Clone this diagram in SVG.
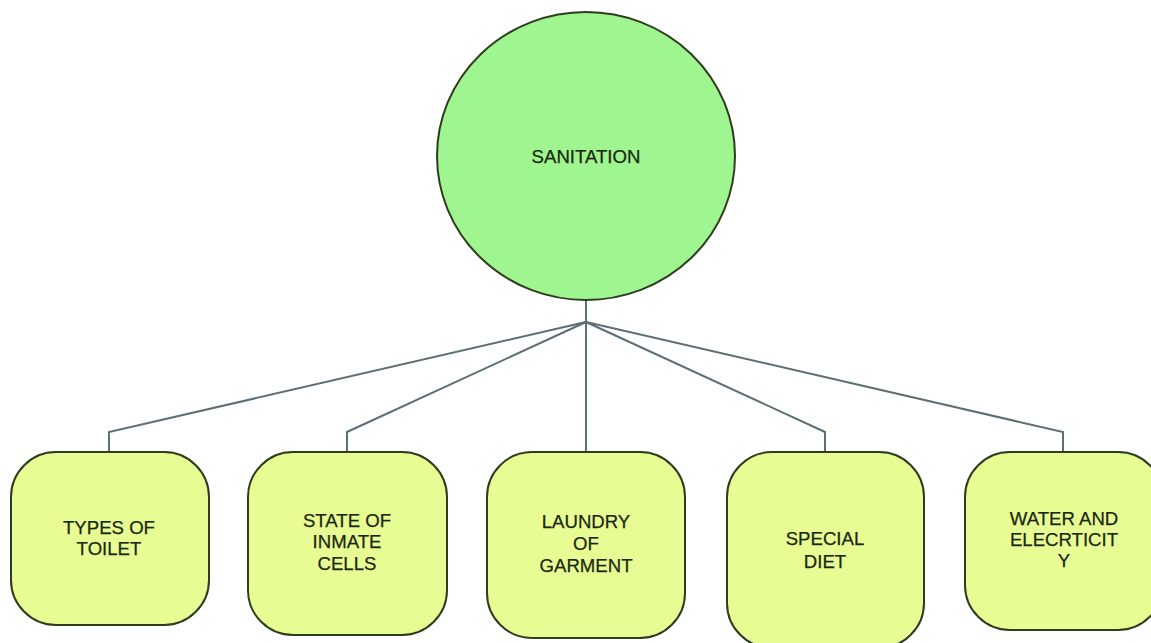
<svg xmlns="http://www.w3.org/2000/svg" width="1151" height="643" viewBox="0 0 1151 643">
<style>
.box{fill:#e8fc94;stroke:#2e3d1e;stroke-width:2}
.hub{fill:#9ff58f;stroke:#2e3d1e;stroke-width:2}
.lbl{font-family:"Liberation Sans",Arial,sans-serif;font-size:18.6px;fill:#1a2810;text-anchor:middle;stroke:#1a2810;stroke-width:0.25}
.con{fill:none;stroke:#5d6e76;stroke-width:2}
</style>
<rect width="1151" height="643" fill="#ffffff"/>
<g id="connectors">
<path class="con" d="M586,300 V322"/>
<path class="con" d="M586,322 L109,432 V452"/>
<path class="con" d="M586,322 L347,432 V452"/>
<path class="con" d="M586,322 V452"/>
<path class="con" d="M586,322 L825,432 V452"/>
<path class="con" d="M586,322 L1063,432 V452"/>
</g>
<g id="sanitation">
<ellipse class="hub" cx="586" cy="156" rx="149" ry="144"/>
<text class="lbl" x="586" y="163">SANITATION</text>
</g>
<g id="types-of-toilet">
<rect class="box" x="11" y="452" width="198" height="173" rx="45"/>
<text class="lbl" x="109" y="534">TYPES OF</text>
<text class="lbl" x="109" y="555">TOILET</text>
</g>
<g id="state-of-inmate-cells">
<rect class="box" x="248" y="452" width="199" height="183" rx="45"/>
<text class="lbl" x="347" y="527">STATE OF</text>
<text class="lbl" x="347" y="548">INMATE</text>
<text class="lbl" x="347" y="570">CELLS</text>
</g>
<g id="laundry-of-garment">
<rect class="box" x="487" y="452" width="198" height="186" rx="45"/>
<text class="lbl" x="586" y="528">LAUNDRY</text>
<text class="lbl" x="586" y="550">OF</text>
<text class="lbl" x="586" y="572">GARMENT</text>
</g>
<g id="special-diet">
<rect class="box" x="727" y="452" width="197" height="196" rx="45"/>
<text class="lbl" x="825" y="545">SPECIAL</text>
<text class="lbl" x="825" y="568">DIET</text>
</g>
<g id="water-and-electricity">
<rect class="box" x="965" y="452" width="198" height="178" rx="45"/>
<text class="lbl" x="1064" y="525">WATER AND</text>
<text class="lbl" x="1064" y="546">ELECRTICIT</text>
<text class="lbl" x="1064" y="567">Y</text>
</g>
</svg>
